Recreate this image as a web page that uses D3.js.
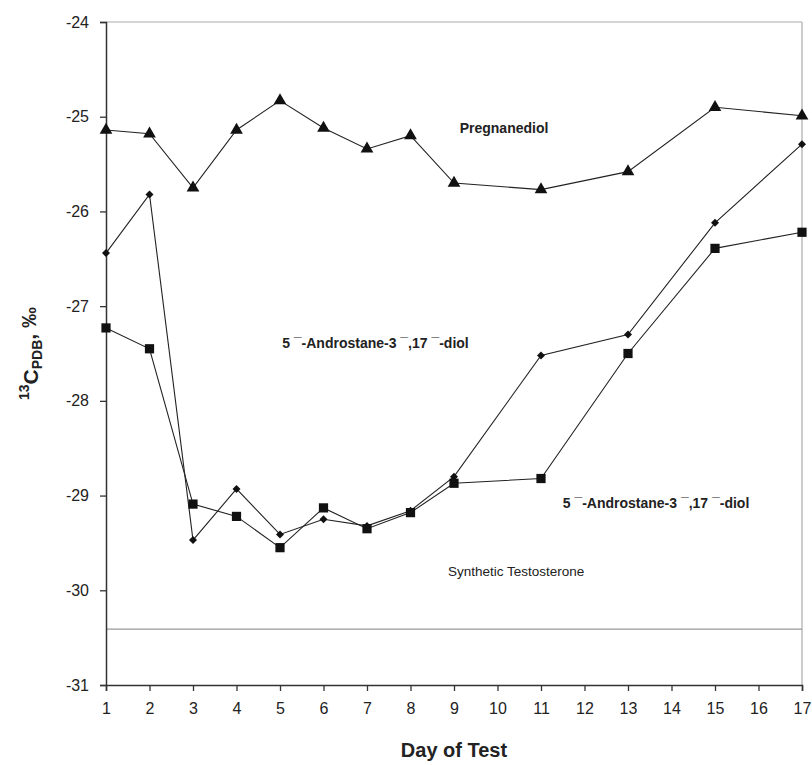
<!DOCTYPE html>
<html>
<head>
<meta charset="utf-8">
<script src="https://cdn.jsdelivr.net/npm/d3@7"></script>
<style>
  body { margin: 0; background: #fff; }
  svg text { font-family: "Liberation Sans", Arial, sans-serif; fill: #222; }
</style>
</head>
<body>
<div id="chart"></div>
<script>
// days on the x axis (no samples on 10, 12, 14, 16)
const days = [1, 2, 3, 4, 5, 6, 7, 8, 9, 11, 13, 15, 17];
const pregnanediol = [-25.14, -25.18, -25.75, -25.14, -24.83, -25.12, -25.34, -25.20, -25.70, -25.77, -25.58, -24.90, -24.99];
const diolA = [-26.44, -25.82, -29.47, -28.93, -29.41, -29.25, -29.32, -29.16, -28.80, -27.52, -27.30, -26.12, -25.29];
const diolB = [-27.23, -27.45, -29.09, -29.22, -29.55, -29.13, -29.35, -29.18, -28.87, -28.82, -27.50, -26.39, -26.22];
const syntheticTestosterone = -30.41;
const xTicks = d3.range(1, 18);
const yTicks = [-24, -25, -26, -27, -28, -29, -30, -31];

const W = 812, H = 765;
const margin = { left: 106, right: 10, top: 22, bottom: 80 };

const svg = d3.select('#chart').append('svg')
    .attr('width', W)
    .attr('height', H);

const x = d3.scaleLinear().domain([1, 17]).range([margin.left, W - margin.right]);
const y = d3.scaleLinear().domain([-31, -24]).range([H - margin.bottom, margin.top]);

// frame: gray top and right
svg.append('line')
    .attr('x1', x(1)).attr('x2', x(17))
    .attr('y1', y(-24)).attr('y2', y(-24))
    .attr('stroke', '#aaa').attr('stroke-width', 1.2);
svg.append('line')
    .attr('x1', x(17)).attr('x2', x(17))
    .attr('y1', y(-24)).attr('y2', y(-31))
    .attr('stroke', '#aaa').attr('stroke-width', 1.2);

// synthetic testosterone reference line
svg.append('line')
    .attr('x1', x(1)).attr('x2', x(17))
    .attr('y1', y(syntheticTestosterone)).attr('y2', y(syntheticTestosterone))
    .attr('stroke', '#999').attr('stroke-width', 1.3);

// axes
const xAxis = svg.append('g')
    .attr('transform', `translate(0,${y(-31)})`)
    .call(d3.axisBottom(x).tickValues(xTicks).tickFormat(d3.format('d')).tickSize(6).tickPadding(12));
const yAxis = svg.append('g')
    .attr('transform', `translate(${x(1)},0)`)
    .call(d3.axisLeft(y).tickValues(yTicks).tickFormat(d => d).tickSize(6).tickPadding(11));

[xAxis, yAxis].forEach(g => {
    g.select('.domain').attr('stroke', '#333').attr('stroke-width', 1.5);
    g.selectAll('.tick line').attr('stroke', '#333').attr('stroke-width', 1.3);
    g.selectAll('.tick text')
        .attr('fill', '#222')
        .style('font-size', '16px')
        .style('font-family', '"Liberation Sans", Arial, sans-serif');
});
yAxis.selectAll('.tick text').text(d => d.toString());

// series lines
const line = d3.line().x((d, i) => x(days[i])).y(d => y(d));
[pregnanediol, diolA, diolB].forEach(s => {
    svg.append('path')
        .datum(s)
        .attr('d', line)
        .attr('fill', 'none')
        .attr('stroke', '#222')
        .attr('stroke-width', 1.1);
});

// markers
svg.append('g').selectAll('path')
    .data(pregnanediol)
    .join('path')
    .attr('transform', (d, i) => `translate(${x(days[i])},${y(d)})`)
    .attr('d', d3.symbol(d3.symbolTriangle, 70))
    .attr('fill', '#111');

svg.append('g').selectAll('path')
    .data(diolA)
    .join('path')
    .attr('transform', (d, i) => `translate(${x(days[i])},${y(d)}) rotate(45)`)
    .attr('d', d3.symbol(d3.symbolSquare, 32))
    .attr('fill', '#111');

svg.append('g').selectAll('path')
    .data(diolB)
    .join('path')
    .attr('transform', (d, i) => `translate(${x(days[i])},${y(d)})`)
    .attr('d', d3.symbol(d3.symbolSquare, 85))
    .attr('fill', '#111');

// annotations
svg.append('text')
    .attr('x', x(10.15)).attr('y', y(-25.17))
    .attr('text-anchor', 'middle')
    .style('font-size', '14px').style('font-weight', 'bold')
    .text('Pregnanediol');

svg.append('text')
    .attr('x', x(5.05)).attr('y', y(-27.44))
    .attr('text-anchor', 'start')
    .style('font-size', '14px').style('font-weight', 'bold')
    .text('5 \u00AF-Androstane-3 \u00AF,17 \u00AF-diol');

svg.append('text')
    .attr('x', x(11.5)).attr('y', y(-29.13))
    .attr('text-anchor', 'start')
    .style('font-size', '14px').style('font-weight', 'bold')
    .text('5 \u00AF-Androstane-3 \u00AF,17 \u00AF-diol');

svg.append('text')
    .attr('x', x(8.86)).attr('y', y(-29.85))
    .attr('text-anchor', 'start')
    .style('font-size', '13.5px')
    .text('Synthetic Testosterone');

// axis titles
svg.append('text')
    .attr('x', (x(1) + x(17)) / 2).attr('y', 757)
    .attr('text-anchor', 'middle')
    .style('font-size', '20px').style('font-weight', 'bold')
    .text('Day of Test');

const yl = svg.append('text')
    .attr('transform', `translate(35,${(y(-24) + y(-31)) / 2}) rotate(-90)`)
    .attr('text-anchor', 'middle')
    .style('font-size', '21px').style('font-weight', 'bold');
yl.append('tspan').attr('dy', '-0.45em').style('font-size', '14px').text('13');
yl.append('tspan').attr('dy', '0.45em').text('C');
yl.append('tspan').attr('dy', '0.3em').style('font-size', '14px').text('PDB');
yl.append('tspan').attr('dy', '-0.3em').text(', \u2030');
</script>
</body>
</html>
